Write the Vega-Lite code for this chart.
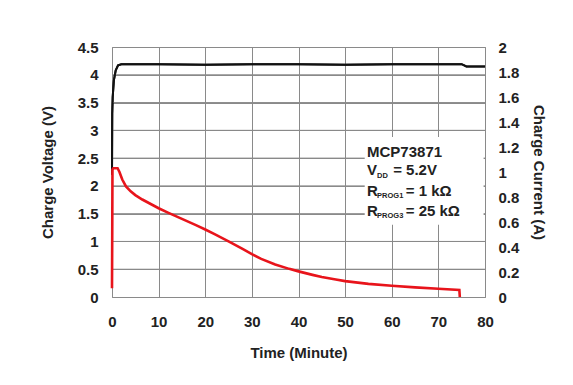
{
  "$schema": "https://vega.github.io/schema/vega-lite/v6.json",
  "width": 373,
  "height": 250,
  "autosize": "none",
  "padding": {"left": 112, "top": 47, "right": 88, "bottom": 88},
  "background": "white",
  "config": {
    "font": "Liberation Sans",
    "view": {"stroke": "#8a8a8a", "strokeWidth": 1},
    "axis": {
      "labelFont": "Liberation Sans",
      "titleFont": "Liberation Sans",
      "labelFontWeight": "bold",
      "titleFontWeight": "bold",
      "labelColor": "#222",
      "titleColor": "#222",
      "labelFontSize": 15,
      "titleFontSize": 15,
      "ticks": false,
      "domain": false,
      "labelOverlap": false,
      "labelFlush": false,
      "labelExpr": "'' + datum.value",
      "gridColor": "#8a8a8a",
      "gridOpacity": 1,
      "gridWidth": 1
    }
  },
  "datasets": {
    "hlines": [
      {"v": 0.5, "t1": 0, "t2": 80}, {"v": 1, "t1": 0, "t2": 80}, {"v": 1.5, "t1": 0, "t2": 80}, {"v": 2, "t1": 0, "t2": 80},
      {"v": 2.5, "t1": 0, "t2": 80}, {"v": 3, "t1": 0, "t2": 80}, {"v": 3.5, "t1": 0, "t2": 80}, {"v": 4, "t1": 0, "t2": 80}
    ],
    "voltage": [
      {"t": 0, "v": 2.2},
      {"t": 0.05, "v": 3.3},
      {"t": 0.15, "v": 3.6},
      {"t": 0.4, "v": 3.9},
      {"t": 0.8, "v": 4.08},
      {"t": 1.3, "v": 4.17},
      {"t": 2, "v": 4.19},
      {"t": 10, "v": 4.19},
      {"t": 20, "v": 4.18},
      {"t": 30, "v": 4.19},
      {"t": 40, "v": 4.19},
      {"t": 50, "v": 4.18},
      {"t": 60, "v": 4.19},
      {"t": 70, "v": 4.19},
      {"t": 75, "v": 4.19},
      {"t": 76, "v": 4.15},
      {"t": 78, "v": 4.15},
      {"t": 80, "v": 4.15}
    ],
    "current": [
      {"t": 0, "a": 0.07},
      {"t": 0.05, "a": 0.5},
      {"t": 0.1, "a": 1.02},
      {"t": 0.3, "a": 1.03},
      {"t": 1.2, "a": 1.03},
      {"t": 1.6, "a": 1.0},
      {"t": 2.2, "a": 0.94},
      {"t": 3, "a": 0.885},
      {"t": 4, "a": 0.845},
      {"t": 5, "a": 0.815},
      {"t": 6.5, "a": 0.78},
      {"t": 8, "a": 0.75},
      {"t": 10, "a": 0.71},
      {"t": 12, "a": 0.675},
      {"t": 15, "a": 0.625},
      {"t": 18, "a": 0.575},
      {"t": 20, "a": 0.54},
      {"t": 22, "a": 0.503},
      {"t": 25, "a": 0.445},
      {"t": 28, "a": 0.385},
      {"t": 30, "a": 0.343},
      {"t": 32, "a": 0.305},
      {"t": 35, "a": 0.26},
      {"t": 38, "a": 0.225},
      {"t": 40, "a": 0.205},
      {"t": 43, "a": 0.177},
      {"t": 45, "a": 0.16},
      {"t": 48, "a": 0.14},
      {"t": 50, "a": 0.127},
      {"t": 55, "a": 0.105},
      {"t": 60, "a": 0.09},
      {"t": 65, "a": 0.077},
      {"t": 70, "a": 0.066},
      {"t": 74.5, "a": 0.056},
      {"t": 74.6, "a": 0.0}
    ],
    "box": [
      {"t1": 54.2, "t2": 79.7, "v1": 1.3, "v2": 2.88}
    ],
    "mainText": [
      {"t": 54.7, "v": 2.525, "label": "MCP73871"},
      {"t": 54.7, "v": 2.196, "label": "V"},
      {"t": 60.3, "v": 2.196, "label": "= 5.2V"},
      {"t": 54.7, "v": 1.823, "label": "R"},
      {"t": 63.0, "v": 1.823, "label": "= 1 kΩ"},
      {"t": 54.7, "v": 1.463, "label": "R"},
      {"t": 63.0, "v": 1.463, "label": "= 25 kΩ"}
    ],
    "subText": [
      {"t": 56.85, "v": 2.15, "label": "DD"},
      {"t": 56.85, "v": 1.78, "label": "PROG1"},
      {"t": 56.85, "v": 1.42, "label": "PROG3"}
    ]
  },
  "layer": [
    {
      "data": {"name": "voltage"},
      "mark": {"type": "line", "color": "#111", "strokeWidth": 2},
      "encoding": {
        "x": {
          "field": "t", "type": "quantitative",
          "scale": {"domain": [0, 80], "nice": false, "zero": false},
          "axis": {"title": "Time (Minute)", "values": [0,10,20,30,40,50,60,70,80], "grid": true, "labelPadding": 17, "titlePadding": 16}
        },
        "y": {
          "field": "v", "type": "quantitative",
          "scale": {"domain": [0, 4.5], "nice": false},
          "axis": {"orient": "left", "title": "Charge Voltage (V)", "values": [0,0.5,1,1.5,2,2.5,3,3.5,4,4.5], "grid": true, "labelPadding": 14, "titlePadding": 22}
        }
      }
    },
    {
      "data": {"name": "hlines"},
      "mark": {"type": "rule", "color": "#8a8a8a", "strokeWidth": 1},
      "encoding": {
        "x": {"field": "t1", "type": "quantitative"},
        "x2": {"field": "t2"},
        "y": {"field": "v", "type": "quantitative", "scale": {"domain": [0, 4.5], "nice": false}, "axis": null}
      }
    },
    {
      "data": {"name": "box"},
      "mark": {"type": "rect", "fill": "white", "stroke": null},
      "encoding": {
        "x": {"field": "t1", "type": "quantitative"},
        "x2": {"field": "t2"},
        "y": {"field": "v1", "type": "quantitative", "scale": {"domain": [0, 4.5], "nice": false}, "axis": null},
        "y2": {"field": "v2"}
      }
    },
    {
      "data": {"name": "voltage"},
      "mark": {"type": "line", "color": "#111", "strokeWidth": 2},
      "encoding": {
        "x": {"field": "t", "type": "quantitative"},
        "y": {"field": "v", "type": "quantitative", "scale": {"domain": [0, 4.5], "nice": false}, "axis": null}
      }
    },
    {
      "data": {"name": "mainText"},
      "mark": {"type": "text", "align": "left", "baseline": "alphabetic", "fontSize": 15, "fontWeight": "bold", "font": "Liberation Sans", "color": "#222"},
      "encoding": {
        "x": {"field": "t", "type": "quantitative"},
        "y": {"field": "v", "type": "quantitative", "scale": {"domain": [0, 4.5], "nice": false}, "axis": null},
        "text": {"field": "label"}
      }
    },
    {
      "data": {"name": "subText"},
      "mark": {"type": "text", "align": "left", "baseline": "alphabetic", "fontSize": 7.5, "fontWeight": "bold", "font": "Liberation Sans", "color": "#222"},
      "encoding": {
        "x": {"field": "t", "type": "quantitative"},
        "y": {"field": "v", "type": "quantitative", "scale": {"domain": [0, 4.5], "nice": false}, "axis": null},
        "text": {"field": "label"}
      }
    },
    {
      "data": {"name": "current"},
      "mark": {"type": "line", "color": "#e8141b", "strokeWidth": 2.6},
      "encoding": {
        "x": {"field": "t", "type": "quantitative"},
        "y": {
          "field": "a", "type": "quantitative",
          "scale": {"domain": [0, 2], "nice": false},
          "axis": {"orient": "right", "title": "Charge Current (A)", "values": [0,0.2,0.4,0.6,0.8,1,1.2,1.4,1.6,1.8,2], "grid": false, "labelPadding": 13, "titlePadding": 12}
        }
      }
    }
  ],
  "resolve": {"scale": {"y": "independent"}}
}
